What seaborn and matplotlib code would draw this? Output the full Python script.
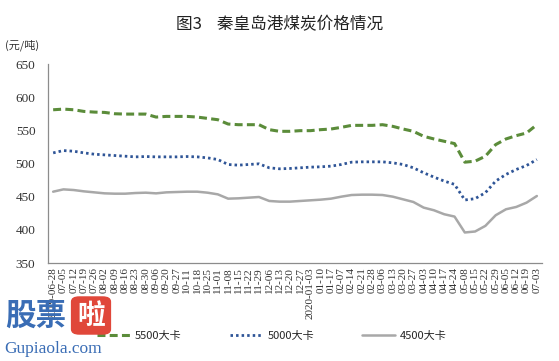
import matplotlib
matplotlib.use("Agg")
import matplotlib.pyplot as plt
import seaborn as sns
import pandas as pd
import numpy as np
from matplotlib.patches import FancyBboxPatch

dates = ["2019-06-28", "07-05", "07-12", "07-19", "07-26", "08-02", "08-09", "08-16",
         "08-23", "08-30", "09-06", "09-20", "09-27", "10-11", "10-18", "10-25",
         "11-01", "11-08", "11-15", "11-22", "11-29", "12-06", "12-13", "12-20",
         "12-27", "2020-01-03", "01-10", "01-17", "02-07", "02-14", "02-21", "02-28",
         "03-06", "03-13", "03-20", "03-27", "04-03", "04-10", "04-17", "04-24",
         "05-08", "05-15", "05-22", "05-29", "06-05", "06-12", "06-19", "07-03"]

p5500 = [581, 582, 581, 578.5, 577.5, 577, 575, 574.5, 574.5, 574.5, 570, 571,
         571, 571, 570, 568, 566, 559.5, 558.5, 558.5, 558.5, 551, 548.5, 548.5,
         549.5, 549.5, 551, 552, 554.5, 557.5, 557.5, 557.5, 558.5, 556, 552, 548.5,
         541, 537, 533.5, 530, 502, 503.5, 511, 528.5, 537, 542, 546, 558.5]

p5000 = [516, 519.5, 518.5, 516, 514, 513, 512, 511, 510, 510.5, 510, 510,
         510, 510.5, 510, 508.5, 506, 498.5, 497.5, 498.5, 499.5, 493.5, 492, 492.5,
         493.5, 494.5, 495, 496, 498.5, 502, 502.5, 502.5, 502.5, 501, 498.5, 493.5,
         486, 479.5, 473.5, 468.5, 445, 447, 456, 473.5, 483.5, 491, 497, 506]

p4500 = [457.5, 461, 460, 458, 456.5, 455, 454.5, 454.5, 455.5, 456, 455, 456.5,
         457, 457.5, 457.5, 456, 453.5, 447, 447.5, 448.5, 449.5, 443.5, 442.5, 442.5,
         443.5, 444.5, 445.5, 447, 450, 452.5, 453, 453, 452.5, 450, 446, 442,
         433.5, 429.5, 423.5, 420, 396, 397.5, 406, 422, 431, 434.5, 441, 451]

series_names = ["5500大卡", "5000大卡", "4500大卡"]
yticks = [350, 400, 450, 500, 550, 600, 650]

sns.set_style("white")
plt.rcParams['font.family'] = ['Noto Sans CJK SC', 'DejaVu Sans']

fig = plt.figure(figsize=(5.59, 3.61), dpi=100)
ax = fig.add_axes([48/559, 1-263/361, (542-48)/559, (263-64)/361])

idx = np.arange(len(dates))
df = pd.DataFrame({"idx": idx, "5500大卡": p5500, "5000大卡": p5000, "4500大卡": p4500})

colors = ["#5b8c3a", "#2f5597", "#a8a8a8"]
styles = [dict(lw=2.2, dashes=(2.6, 1.4)), dict(lw=2.0, dashes=(0.9, 1.1)), dict(lw=1.8)]
for name, c, st in zip(series_names, colors, styles):
    sns.lineplot(data=df, x="idx", y=name, ax=ax, color=c, label=name, lw=st["lw"])
    line = ax.get_lines()[-1]
    if "dashes" in st:
        line.set_dashes(st["dashes"])

ax.set_xlim(-0.5, len(dates) - 0.5)
ax.set_ylim(350, 650)
ax.set_yticks(yticks)
ax.set_yticklabels([str(v) for v in yticks], family="Liberation Serif", fontsize=9.5)
ax.set_xticks(idx)
ax.set_xticklabels(dates, rotation=90, family="Liberation Serif", fontsize=8)
ax.set_xticks(np.arange(-0.5, len(dates), 3), minor=True)
ax.tick_params(axis="x", which="major", length=0, pad=3, colors="#333333")
ax.tick_params(axis="x", which="minor", length=3, direction="in", color="#888888", width=0.8)
ax.tick_params(axis="y", length=3, direction="out", color="#888888", width=0.8, pad=6, colors="#333333")
ax.tick_params(axis="y", color="#888888")
ax.set_xlabel("")
ax.set_ylabel("")
for s in ["top", "right"]:
    ax.spines[s].set_visible(False)
for s in ["left", "bottom"]:
    ax.spines[s].set_color("#8c8c8c")
    ax.spines[s].set_linewidth(0.9)

ax.legend(loc="center", bbox_to_anchor=(272/559, 1-336/361), bbox_transform=fig.transFigure,
          ncol=3, frameon=False, fontsize=8, handlelength=3.0, columnspacing=4.3,
          handletextpad=0.4)

fig.text(280/559, 1-25/361, "图3    秦皇岛港煤炭价格情况", ha="center", va="center",
         fontsize=12, color="#222222")
fig.text(5/559, 1-45/361, "(元/吨)", ha="left", va="center", fontsize=8, color="#333333")

# watermark
fig.text(5/559, 1-316/361, "股票", ha="left", va="center", fontsize=22, fontweight="bold",
         color="#3a6db5", zorder=10)
box = FancyBboxPatch((72/559, 1-334/361), 38/559, 37/361,
                     boxstyle="round,pad=0.002,rounding_size=0.015",
                     transform=fig.transFigure, facecolor="#e0473a", edgecolor="none", zorder=9)
fig.patches.append(box)
fig.text(91/559, 1-316/361, "啦", ha="center", va="center", fontsize=20, fontweight="bold",
         color="white", zorder=10)
fig.text(4/559, 1-349/361, "Gupiaola.com", ha="left", va="center", fontsize=12.5,
         family="Liberation Serif", color="#3a6db5", zorder=10)

fig.savefig("out.png", dpi=100)
